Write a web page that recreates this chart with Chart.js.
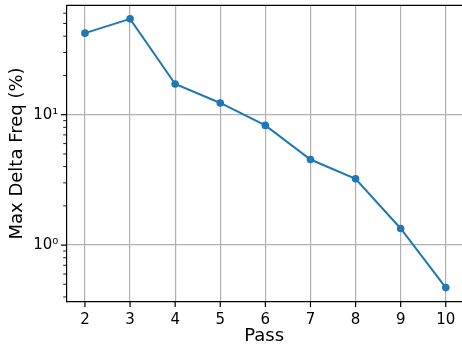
<!DOCTYPE html>
<html>
<head>
<meta charset="utf-8">
<script src="https://cdn.jsdelivr.net/npm/chart.js@4/dist/chart.umd.min.js"></script>
<style>
  html, body { margin: 0; padding: 0; background: #fff; overflow: hidden; }
  canvas { display: block; }
</style>
</head>
<body>
<canvas id="c" width="462" height="345"></canvas>
<script>
const passes = [2, 3, 4, 5, 6, 7, 8, 9, 10];
const maxDeltaFreq = [42.2, 54.3, 17.2, 12.3, 8.28, 4.53, 3.22, 1.34, 0.472];
const yMajorTicks = [1, 10];
const yMinorTicks = [0.4, 0.5, 0.6, 0.7, 0.8, 0.9, 2, 3, 4, 5, 6, 7, 8, 9, 20, 30, 40, 50, 60];
const yTickLabels = { 1: '10\u2070', 10: '10\u00B9' };
const xLabel = 'Pass';
const yLabel = 'Max Delta Freq (%)';

const FONT = 'DejaVu Sans';
const BLUE = '#1f77b4';

const frameAndTicks = {
  id: 'frameAndTicks',
  afterDraw(chart) {
    const ctx = chart.ctx;
    const a = chart.chartArea;
    const xs = chart.scales.x, ys = chart.scales.y;
    ctx.save();
    ctx.strokeStyle = '#000';
    ctx.lineWidth = 1.2;
    ctx.beginPath();
    ctx.moveTo(a.left, a.top);
    ctx.lineTo(a.right, a.top);
    ctx.stroke();
    ys.ticks.forEach(t => {
      const py = ys.getPixelForValue(t.value);
      const len = t.major ? 5.4 : 3.1;
      ctx.lineWidth = t.major ? 1.2 : 0.9;
      ctx.beginPath();
      ctx.moveTo(a.left, py);
      ctx.lineTo(a.left - len, py);
      ctx.stroke();
    });
    ctx.lineWidth = 1.2;
    xs.ticks.forEach(t => {
      const px = xs.getPixelForValue(t.value);
      ctx.beginPath();
      ctx.moveTo(px, a.bottom);
      ctx.lineTo(px, a.bottom + 5.4);
      ctx.stroke();
    });
    ctx.restore();
  }
};

new Chart(document.getElementById('c'), {
  type: 'line',
  data: {
    datasets: [{
      data: passes.map((p, i) => ({ x: p, y: maxDeltaFreq[i] })),
      borderColor: BLUE,
      backgroundColor: BLUE,
      borderWidth: 2,
      pointRadius: 3.8,
      pointBorderWidth: 0,
      pointBackgroundColor: BLUE,
      tension: 0,
      fill: false
    }]
  },
  options: {
    responsive: false,
    animation: false,
    events: [],
    layout: { autoPadding: false, padding: { top: 5.3, right: 0, left: 0, bottom: 0 } },
    plugins: { legend: { display: false }, tooltip: { enabled: false } },
    scales: {
      x: {
        type: 'linear',
        min: 1.586,
        max: 10.36,
        afterBuildTicks: s => { s.ticks = passes.map(v => ({ value: v })); },
        afterFit: s => { s.height = 43.3; s.paddingLeft = 0; s.paddingRight = 0; s.paddingTop = 0; s.paddingBottom = 0; },
        ticks: {
          autoSkip: false,
          maxRotation: 0,
          padding: 9,
          color: '#000',
          font: { family: FONT, size: 15 },
          callback: v => String(v)
        },
        grid: { color: '#b0b0b0', lineWidth: 1.2, drawTicks: false },
        border: { display: true, color: '#000', width: 1.2 },
        title: {
          display: true,
          text: xLabel,
          color: '#000',
          font: { family: FONT, size: 18, lineHeight: 1 },
          padding: { top: 0, bottom: 0 }
        }
      },
      y: {
        type: 'logarithmic',
        min: 0.368,
        max: 69,
        afterBuildTicks: s => {
          const t = yMajorTicks.map(v => ({ value: v, major: true }))
            .concat(yMinorTicks.map(v => ({ value: v, major: false })));
          t.sort((a, b) => a.value - b.value);
          s.ticks = t;
        },
        afterFit: s => { s.width = 66.3; s.paddingTop = 0; s.paddingBottom = 0; s.paddingLeft = 0; s.paddingRight = 0; },
        ticks: {
          autoSkip: false,
          padding: 8,
          color: '#000',
          font: { family: FONT, size: 15 },
          callback: v => yTickLabels[v] || ''
        },
        grid: {
          color: c => (c.tick && c.tick.major) ? '#b0b0b0' : 'rgba(0,0,0,0)',
          lineWidth: 1.2,
          drawTicks: false
        },
        border: { display: true, color: '#000', width: 1.2 },
        title: {
          display: true,
          text: yLabel,
          color: '#000',
          font: { family: FONT, size: 18, lineHeight: 1.2 },
          padding: { top: 7, bottom: 0 }
        }
      }
    }
  },
  plugins: [frameAndTicks]
});
</script>
</body>
</html>
